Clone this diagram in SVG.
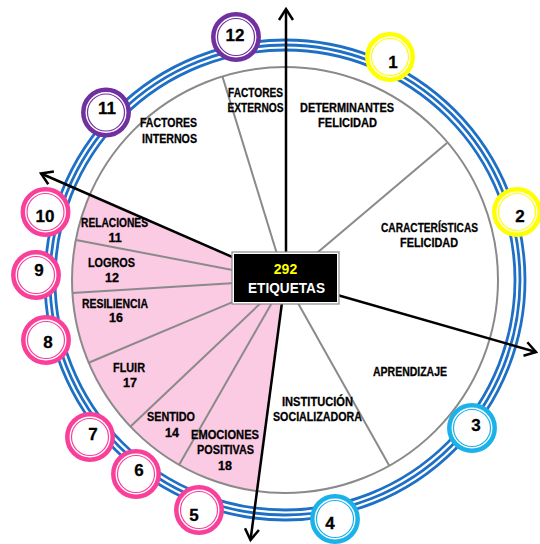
<svg xmlns="http://www.w3.org/2000/svg" width="540" height="544" viewBox="0 0 540 544">
<style>
.lbl{font-family:"Liberation Sans",Arial,sans-serif;font-weight:bold;font-size:12.5px;fill:#000;stroke:#000;stroke-width:0.3;text-anchor:middle}
.num{font-family:"Liberation Sans",Arial,sans-serif;font-weight:bold;font-size:17px;fill:#000;stroke:#000;stroke-width:0.3;text-anchor:middle}
.ring{fill:none;stroke:#1e6fc6;stroke-width:2.8}
.div{stroke:#8a8a8a;stroke-width:2;fill:none}
.arr{stroke:#000;stroke-width:2.5;fill:none;marker-end:url(#ah)}
.badge .o{fill:#fff;stroke-width:4.5}
.badge .i{fill:none;stroke-width:1.2}
.yel .o,.yel .i{stroke:#ffff00}
.cya .o,.cya .i{stroke:#1bb2ea}
.pnk .o,.pnk .i{stroke:#f8409a}
.pur .o,.pur .i{stroke:#7030a0}
</style>
<defs>
<marker id="ah" markerUnits="userSpaceOnUse" markerWidth="20" markerHeight="20" refX="0" refY="0" viewBox="-12 -10 14 20" orient="auto">
<path d="M-11,-7 L0,0 L-11,7" fill="none" stroke="#000" stroke-width="2.5"/>
</marker>
</defs>
<rect width="540" height="544" fill="#fff"/>

<g id="rings">
<circle class="ring" cx="285" cy="280" r="230"/>
<circle class="ring" cx="285" cy="280" r="235"/>
<circle class="ring" cx="285" cy="280" r="240"/>
</g>

<g id="pie">
<path d="M285,280 L89.8,194.7 A213,213 0 0 0 256.8,491.1 Z" fill="#fbcae3"/>
<circle cx="285" cy="280" r="213" class="div"/>
<line class="div" x1="285" y1="280" x2="76" y2="240"/>
<line class="div" x1="285" y1="280" x2="72" y2="293"/>
<line class="div" x1="285" y1="280" x2="88" y2="363"/>
<line class="div" x1="285" y1="280" x2="130" y2="427"/>
<line class="div" x1="285" y1="280" x2="179" y2="465"/>
<line class="div" x1="285" y1="280" x2="222.4" y2="76.4"/>
<line class="div" x1="285" y1="280" x2="447" y2="143"/>
<line class="div" x1="285" y1="280" x2="389.3" y2="465.7"/>
</g>

<g id="s-factores-externos"><text class="lbl" x="255.5" y="97" textLength="55" lengthAdjust="spacingAndGlyphs">FACTORES</text><text class="lbl" x="255.5" y="112" textLength="56" lengthAdjust="spacingAndGlyphs">EXTERNOS</text></g>
<g id="s-determinantes"><text class="lbl" x="347" y="112" textLength="94" lengthAdjust="spacingAndGlyphs">DETERMINANTES</text><text class="lbl" x="347.5" y="127" textLength="59" lengthAdjust="spacingAndGlyphs">FELICIDAD</text></g>
<g id="s-caracteristicas"><text class="lbl" x="429.5" y="232" textLength="97" lengthAdjust="spacingAndGlyphs">CARACTERÍSTICAS</text><text class="lbl" x="429" y="247" textLength="58" lengthAdjust="spacingAndGlyphs">FELICIDAD</text></g>
<g id="s-aprendizaje"><text class="lbl" x="410" y="376" textLength="74" lengthAdjust="spacingAndGlyphs">APRENDIZAJE</text></g>
<g id="s-institucion"><text class="lbl" x="317.5" y="406" textLength="71" lengthAdjust="spacingAndGlyphs">INSTITUCIÓN</text><text class="lbl" x="317.5" y="421" textLength="89" lengthAdjust="spacingAndGlyphs">SOCIALIZADORA</text></g>
<g id="s-factores-internos"><text class="lbl" x="168.5" y="127" textLength="57" lengthAdjust="spacingAndGlyphs">FACTORES</text><text class="lbl" x="169.5" y="143" textLength="55" lengthAdjust="spacingAndGlyphs">INTERNOS</text></g>
<g id="s-relaciones"><text class="lbl" x="114.5" y="227" textLength="67" lengthAdjust="spacingAndGlyphs">RELACIONES</text><text class="lbl" x="115" y="242">11</text></g>
<g id="s-logros"><text class="lbl" x="111.5" y="267" textLength="47" lengthAdjust="spacingAndGlyphs">LOGROS</text><text class="lbl" x="112" y="282">12</text></g>
<g id="s-resiliencia"><text class="lbl" x="115" y="308" textLength="66" lengthAdjust="spacingAndGlyphs">RESILIENCIA</text><text class="lbl" x="116" y="322">16</text></g>
<g id="s-fluir"><text class="lbl" x="129" y="372" textLength="32" lengthAdjust="spacingAndGlyphs">FLUIR</text><text class="lbl" x="130" y="387">17</text></g>
<g id="s-sentido"><text class="lbl" x="171" y="421" textLength="48" lengthAdjust="spacingAndGlyphs">SENTIDO</text><text class="lbl" x="172" y="437">14</text></g>
<g id="s-emociones"><text class="lbl" x="225" y="439" textLength="68" lengthAdjust="spacingAndGlyphs">EMOCIONES</text><text class="lbl" x="225.5" y="454" textLength="57" lengthAdjust="spacingAndGlyphs">POSITIVAS</text><text class="lbl" x="225" y="470">18</text></g>

<g id="connectors">
<line class="arr" x1="286" y1="280" x2="286" y2="9"/>
<line class="arr" x1="285" y1="280" x2="41" y2="173.5"/>
<line class="arr" x1="285" y1="280" x2="536" y2="352"/>
<line class="arr" x1="285" y1="280" x2="250.5" y2="540"/>
</g>

<g id="center">
<rect x="232" y="252" width="107" height="52" fill="#fff" stroke="#8a8a8a" stroke-width="1.2"/>
<rect x="234" y="254" width="103" height="48" fill="#000"/>
<text x="285.5" y="274" font-family="Liberation Sans,Arial,sans-serif" font-weight="bold" font-size="14" fill="#ffff00" text-anchor="middle">292</text>
<text x="286.5" y="293" font-family="Liberation Sans,Arial,sans-serif" font-weight="bold" font-size="14" fill="#fff" text-anchor="middle" textLength="77" lengthAdjust="spacingAndGlyphs">ETIQUETAS</text>
</g>

<g id="n1" class="badge yel"><circle class="o" cx="390" cy="57" r="22.7"/><circle class="i" cx="390" cy="57" r="18.5"/><text class="num" x="393" y="68">1</text></g>
<g id="n2" class="badge yel"><circle class="o" cx="517" cy="212" r="22.7"/><circle class="i" cx="517" cy="212" r="18.5"/><text class="num" x="520" y="222">2</text></g>
<g id="n3" class="badge cya"><circle class="o" cx="472" cy="428" r="22.7"/><circle class="i" cx="472" cy="428" r="18.5"/><text class="num" x="476" y="431">3</text></g>
<g id="n4" class="badge cya"><circle class="o" cx="335" cy="519" r="22.7"/><circle class="i" cx="335" cy="519" r="18.5"/><text class="num" x="330" y="529">4</text></g>
<g id="n5" class="badge pnk"><circle class="o" cx="199" cy="510" r="22.7"/><circle class="i" cx="199" cy="510" r="18.5"/><text class="num" x="194" y="521">5</text></g>
<g id="n6" class="badge pnk"><circle class="o" cx="136" cy="474" r="22.7"/><circle class="i" cx="136" cy="474" r="18.5"/><text class="num" x="139" y="476">6</text></g>
<g id="n7" class="badge pnk"><circle class="o" cx="90" cy="437" r="22.7"/><circle class="i" cx="90" cy="437" r="18.5"/><text class="num" x="93" y="440">7</text></g>
<g id="n8" class="badge pnk"><circle class="o" cx="46" cy="340" r="22.7"/><circle class="i" cx="46" cy="340" r="18.5"/><text class="num" x="48" y="348">8</text></g>
<g id="n9" class="badge pnk"><circle class="o" cx="36" cy="275" r="22.7"/><circle class="i" cx="36" cy="275" r="18.5"/><text class="num" x="39" y="276">9</text></g>
<g id="n10" class="badge pnk"><circle class="o" cx="45.5" cy="212" r="22.7"/><circle class="i" cx="45.5" cy="212" r="18.5"/><text class="num" x="45" y="222">10</text></g>
<g id="n11" class="badge pur"><circle class="o" cx="106" cy="112.5" r="22.7"/><circle class="i" cx="106" cy="112.5" r="18.5"/><text class="num" x="107" y="114">11</text></g>
<g id="n12" class="badge pur"><circle class="o" cx="236" cy="37" r="22.7"/><circle class="i" cx="236" cy="37" r="18.5"/><text class="num" x="235" y="41">12</text></g>
</svg>
